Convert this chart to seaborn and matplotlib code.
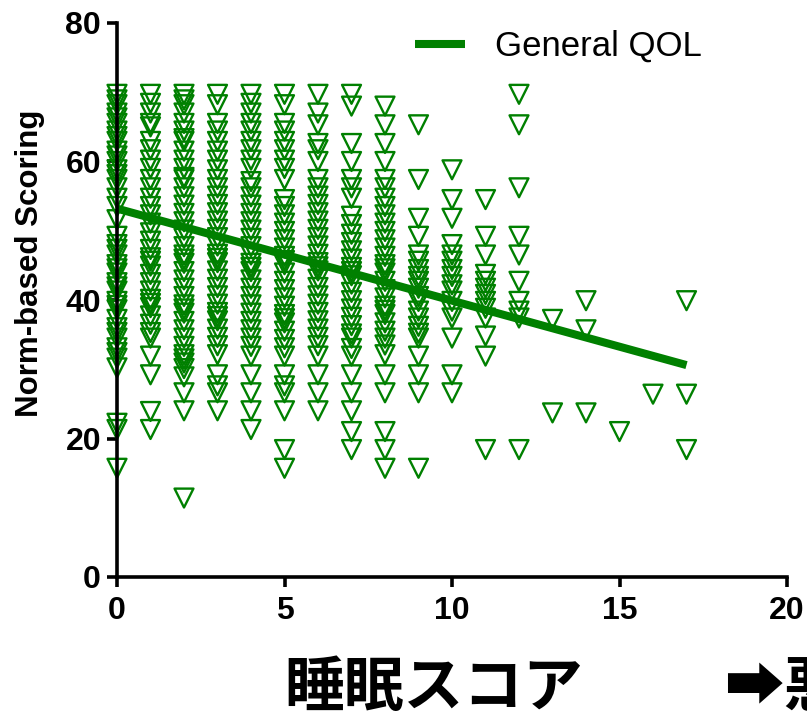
import matplotlib
matplotlib.use("Agg")
import matplotlib.pyplot as plt
import pandas as pd
import seaborn as sns

# Sleep score (x) and norm-based General QOL scores observed at each score
sleep_scores = [0, 1, 2, 3, 4, 5, 6, 7, 8, 9, 10, 11, 12, 13, 14, 15, 16, 17]

qol_s0 = [69.7, 68.9, 68.2, 67.0, 66.3, 65.5, 64.4, 63.6, 62.9, 61.5, 60.8, 60.0,
          58.8, 58.1, 57.4, 56.2, 54.7, 53.5, 51.6, 49.2, 48.0, 47.3, 46.5, 45.1,
          44.5, 43.9, 42.5, 41.9, 41.3, 39.8, 39.2, 38.6, 37.2, 36.0, 35.3, 34.5,
          33.1, 32.4, 31.6, 30.2, 22.2, 21.3, 15.7]
qol_s1 = [69.7, 68.4, 67.0, 65.5, 65.0, 62.9, 61.7, 60.2, 59.0, 57.4, 56.2, 54.7,
          53.5, 52.3, 51.1, 49.7, 48.5, 47.3, 46.1, 45.6, 44.9, 43.7, 42.5, 41.3,
          40.1, 39.5, 38.9, 37.7, 36.5, 35.3, 34.5, 31.9, 29.2, 23.9, 21.3]
qol_s2 = [69.7, 68.9, 68.2, 67.0, 65.5, 64.4, 63.3, 62.9, 61.5, 60.2, 59.0, 57.7,
          57.4, 56.2, 54.9, 53.7, 52.5, 51.3, 50.1, 48.9, 47.7, 46.5, 45.9, 45.3,
          44.1, 42.9, 41.7, 40.5, 39.3, 38.7, 38.1, 36.9, 35.7, 34.5, 33.3, 32.1,
          31.5, 30.9, 30.1, 28.9, 26.6, 24.0, 11.4]
qol_s3 = [69.7, 68.2, 65.5, 64.4, 62.9, 61.5, 60.2, 58.8, 57.4, 56.2, 55.0, 53.8,
          52.6, 51.4, 50.2, 49.0, 47.8, 46.6, 46.0, 45.4, 44.2, 43.0, 41.8, 40.6,
          39.4, 38.2, 37.6, 37.0, 35.8, 34.6, 33.4, 32.1, 29.2, 27.6, 26.6, 24.0]
qol_s4 = [69.7, 68.4, 67.0, 65.5, 64.4, 62.9, 61.7, 60.2, 59.0, 57.1, 56.2, 54.9,
          53.7, 52.5, 51.3, 50.1, 48.9, 47.7, 46.5, 45.3, 44.7, 44.1, 42.9, 41.7,
          40.5, 39.3, 38.1, 36.9, 35.7, 34.5, 33.3, 31.9, 29.2, 26.6, 24.0, 21.3]
qol_s5 = [69.7, 68.2, 65.5, 64.4, 62.9, 61.7, 60.2, 59.0, 57.4, 54.5, 53.5, 52.3,
          51.1, 49.9, 48.7, 47.5, 46.3, 45.7, 45.1, 43.9, 42.7, 41.5, 40.3, 39.1,
          37.9, 37.3, 36.7, 35.5, 34.3, 33.1, 31.9, 29.2, 27.6, 26.6, 24.0, 18.4,
          15.7]
qol_s6 = [69.7, 67.0, 65.3, 62.6, 61.7, 60.0, 57.4, 56.2, 55.0, 53.8, 52.6, 51.4,
          50.2, 49.0, 47.8, 46.6, 45.4, 44.8, 44.2, 43.0, 41.8, 40.6, 39.4, 38.2,
          37.0, 35.8, 34.6, 33.4, 31.9, 29.2, 26.6, 24.0]
qol_s7 = [69.7, 68.0, 62.6, 60.0, 57.4, 56.2, 54.7, 52.1, 50.9, 49.5, 48.3, 47.1,
          45.9, 44.7, 44.1, 43.5, 42.3, 41.1, 39.9, 38.7, 37.5, 36.3, 35.1, 34.5,
          33.0, 31.9, 29.2, 26.6, 24.0, 21.0, 18.4]
qol_s8 = [68.0, 65.3, 62.6, 60.0, 57.4, 56.2, 54.7, 53.5, 52.3, 51.1, 49.9, 48.7,
          47.5, 46.3, 45.1, 44.5, 43.9, 42.7, 41.5, 40.3, 39.1, 38.5, 37.9, 36.7,
          35.5, 34.5, 33.5, 32.1, 29.2, 26.6, 21.0, 18.4, 15.7]
qol_s9 = [65.3, 57.4, 51.8, 49.2, 46.5, 45.6, 44.4, 43.4, 42.7, 41.7, 40.5, 39.8,
          38.4, 37.4, 36.2, 35.2, 34.5, 31.9, 29.2, 26.6, 15.7]
qol_s10 = [58.8, 54.5, 51.8, 48.0, 46.5, 45.6, 44.4, 43.4, 42.2, 41.3, 39.8, 38.4,
           37.4, 34.5, 29.2, 26.6]
qol_s11 = [54.5, 49.2, 46.5, 43.7, 42.7, 41.7, 40.8, 39.8, 38.8, 37.4, 34.8, 31.9,
           18.4]
qol_s12 = [69.7, 65.3, 56.2, 49.2, 46.5, 42.7, 39.8, 38.4, 37.4, 18.4]
qol_s13 = [37.2, 23.7]
qol_s14 = [39.9, 35.7, 23.7]
qol_s15 = [21.0]
qol_s16 = [26.4]
qol_s17 = [39.9, 26.4, 18.4]

# Linear trend of General QOL against sleep score
fit_x = [0, 17]
fit_y = [53.2, 30.6]

x_ticks = [0, 5, 10, 15, 20]
y_ticks = [0, 20, 40, 60, 80]
series_label = "General QOL"
y_title = "Norm-based Scoring"
x_title = "睡眠スコア"
x_note = "➡悪い"

GREEN = "#008000"

qol_by_score = [qol_s0, qol_s1, qol_s2, qol_s3, qol_s4, qol_s5, qol_s6, qol_s7,
                qol_s8, qol_s9, qol_s10, qol_s11, qol_s12, qol_s13, qol_s14,
                qol_s15, qol_s16, qol_s17]
points = pd.DataFrame(
    [(s, v) for s, vals in zip(sleep_scores, qol_by_score) for v in vals],
    columns=["sleep", "qol"],
)
trend = pd.DataFrame({"sleep": fit_x, "qol": fit_y})

sns.set_style("ticks")
plt.rcParams["font.family"] = ["Liberation Sans", "DejaVu Sans"]
for key in ("text.color", "axes.labelcolor", "xtick.color", "ytick.color",
            "axes.edgecolor"):
    plt.rcParams[key] = "black"

W, H = 807, 721
fig = plt.figure(figsize=(W / 100, H / 100), dpi=100)
ax = fig.add_axes([117 / W, 1 - 577 / H, 670 / W, 554 / H])

sns.scatterplot(data=points, x="sleep", y="qol", marker="v", s=185,
                facecolor="none", edgecolor=GREEN, linewidth=1.7,
                clip_on=False, legend=False, ax=ax, zorder=1)
sns.lineplot(data=trend, x="sleep", y="qol", color=GREEN, linewidth=5.8,
             solid_capstyle="butt", label=series_label, ax=ax, zorder=2)

ax.set_xlim(x_ticks[0], x_ticks[-1])
ax.set_ylim(y_ticks[0], y_ticks[-1])
ax.set_xticks(x_ticks)
ax.set_yticks(y_ticks)
ax.set_xlabel("")
ax.set_ylabel("")

for side in ("top", "right"):
    ax.spines[side].set_visible(False)
for side in ("left", "bottom"):
    ax.spines[side].set_linewidth(2.6)
    ax.spines[side].set_color("black")

ax.tick_params(axis="both", direction="out", length=7.5, width=2.6,
               color="black", labelcolor="black")
ax.tick_params(axis="y", labelsize=23, pad=4)
ax.tick_params(axis="x", labelsize=23, pad=6)
for lab in ax.get_xticklabels() + ax.get_yticklabels():
    lab.set_fontweight("bold")

ax.legend(frameon=False, loc="center left", bbox_to_anchor=(0.445, 0.958),
          borderaxespad=0, borderpad=0, handlelength=1.45, handletextpad=0.85,
          prop={"family": "Liberation Sans", "size": 25})

fig.text(30 / W, 1 - 263 / H, y_title, rotation=90, ha="center", va="center",
         fontsize=22.5, fontweight="bold")
fig.text(434 / W, 1 - 689 / H, x_title, ha="center", va="center", fontsize=43,
         fontweight="bold", family=["Noto Sans CJK JP", "DejaVu Sans"])
fig.text(724 / W, 1 - 689 / H, x_note, ha="left", va="center", fontsize=43,
         fontweight="bold", family=["Noto Sans CJK JP", "DejaVu Sans"])

fig.savefig("out.png", dpi=100)
